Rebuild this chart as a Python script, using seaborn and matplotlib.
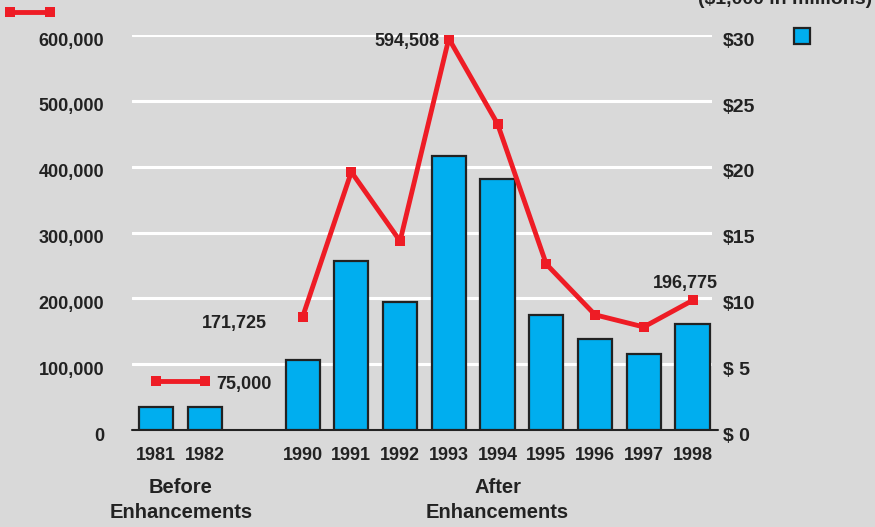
import matplotlib
matplotlib.use("Agg")
import matplotlib.pyplot as plt
import matplotlib.transforms as mtransforms
import seaborn as sns
import pandas as pd
import numpy as np

# ---- data ----
years = ["1981", "1982", "1990", "1991", "1992", "1993", "1994", "1995", "1996", "1997", "1998"]
slot_order = ["1981", "1982", " ", "1990", "1991", "1992", "1993", "1994", "1995", "1996", "1997", "1998"]
dollars_bn = [1.75, 1.75, 5.3, 12.8, 9.7, 20.8, 19.1, 8.7, 6.9, 5.8, 8.05]
count_vals = [75000, 75000, 171725, 392000, 287000, 594508, 465000, 252000, 175000, 156500, 196775]
period = ["Before", "Before", "After", "After", "After", "After", "After", "After", "After", "After", "After"]
left_ticks = [0, 100000, 200000, 300000, 400000, 500000, 600000]
left_labels = ["0", "100,000", "200,000", "300,000", "400,000", "500,000", "600,000"]
right_ticks = [0, 5, 10, 15, 20, 25, 30]
right_labels = ["$ 0", "$ 5", "$10", "$15", "$20", "$25", "$30"]
group_labels = ["Before\nEnhancements", "After\nEnhancements"]
annot_years = ["1982", "1990", "1993", "1998"]
annot_text = ["75,000", "171,725", "594,508", "196,775"]

BG = "#d9d9d9"
BLUE = "#00aeef"
RED = "#ee1c25"
DARK = "#222222"

sns.set_theme(style="white")
plt.rcParams["font.family"] = ["Liberation Sans", "DejaVu Sans"]
plt.rcParams["font.weight"] = "bold"

df = pd.DataFrame({"year": years, "dollars": dollars_bn, "count": count_vals, "period": period})
df["pos"] = [slot_order.index(y) for y in years]

fig = plt.figure(figsize=(8.75, 5.27), dpi=100, facecolor=BG)
ax = fig.add_axes([132 / 875, 1 - 430 / 527, (712 - 132) / 875, (430 - 35) / 527])
ax.set_facecolor(BG)
axr = ax.twinx()
XL = (-0.5, 11.4)

# grid on left axis
ax.set_ylim(0, 600000)
ax.set_xlim(*XL)
for t in left_ticks[1:]:
    ax.axhline(t, color="white", lw=2.2, zorder=0)

# bars on the right axis
axr.set_ylim(0, 30)
sns.barplot(data=df, x="year", y="dollars", order=slot_order, ax=axr, color=BLUE,
            width=0.7, edgecolor=DARK, linewidth=1.6, saturation=1, zorder=2)
axr.set_xlim(*XL)

# line on top, matched to left scale
axl = ax.twinx()
axl.set_ylim(0, 600000)
axl.set_xlim(*XL)
sns.lineplot(data=df, x="pos", y="count", units="period", estimator=None, ax=axl,
             color=RED, lw=3.5, marker="s", markersize=7, markeredgewidth=0, zorder=5)
axl.set_axis_off()

# baseline
ax.axhline(0, color=DARK, lw=1.5, xmax=1.01, clip_on=False, zorder=3)

# ticks
shift = mtransforms.ScaledTranslation(0, -3 / 72, fig.dpi_scale_trans)
ax.set_yticks(left_ticks)
ax.set_yticklabels(left_labels, fontsize=13, fontweight="bold", color=DARK)
ax.tick_params(axis="y", length=0, pad=20)
for lab in ax.get_yticklabels():
    lab.set_transform(lab.get_transform() + shift)
axr.set_yticks(right_ticks)
axr.set_yticklabels(right_labels, fontsize=14, fontweight="bold", color=DARK)
axr.tick_params(axis="y", length=0, pad=8)
for lab in axr.get_yticklabels():
    lab.set_transform(lab.get_transform() + shift)
ax.set_xticks(range(len(slot_order)))
ax.set_xticklabels(slot_order, fontsize=13, fontweight="bold", color=DARK)
ax.tick_params(axis="x", length=0, pad=12)
axr.set_xlabel("")
axr.set_ylabel("")
ax.set_ylabel("")
for a in (ax, axr, axl):
    for s in a.spines.values():
        s.set_visible(False)

# group labels
before_pos = np.mean([slot_order.index(y) for y, p in zip(years, period) if p == "Before"])
after_pos = np.mean([slot_order.index(y) for y, p in zip(years, period) if p == "After"])
trans = axl.get_xaxis_transform()
for xpos, lab in zip([before_pos, after_pos], group_labels):
    axl.text(xpos, -0.122, lab, transform=trans, ha="center", va="top",
             fontsize=14.5, fontweight="bold", color=DARK, linespacing=1.4, clip_on=False)

# annotations
offsets = {"1982": ((8, -3), "left"), "1990": ((-26, -5), "right"),
           "1993": ((-7, -2), "right"), "1998": ((-5, 12), "center")}
for yr, txt in zip(annot_years, annot_text):
    i = years.index(yr)
    off, ha = offsets[yr]
    axl.annotate(txt, (df["pos"][i], count_vals[i]), xytext=off, textcoords="offset points",
                 ha=ha, va="center", fontsize=13, fontweight="bold", color=DARK)

# legends
fig.add_artist(plt.Line2D([10 / 875, 50 / 875], [1 - 12 / 527, 1 - 12 / 527], color=RED, lw=3.5,
                          marker="s", markersize=7, markeredgewidth=0, markevery=[0, 1]))
fig.add_artist(plt.Rectangle((794 / 875, 1 - 44 / 527), 16 / 875, 16 / 527, facecolor=BLUE,
                             edgecolor=DARK, lw=1.6))
fig.text(785 / 875, 1 + 1 / 527, "($1,000 in millions)", ha="center", va="center",
         fontsize=14, fontweight="bold", color=DARK)

fig.savefig("out.png", dpi=100, facecolor=BG)
